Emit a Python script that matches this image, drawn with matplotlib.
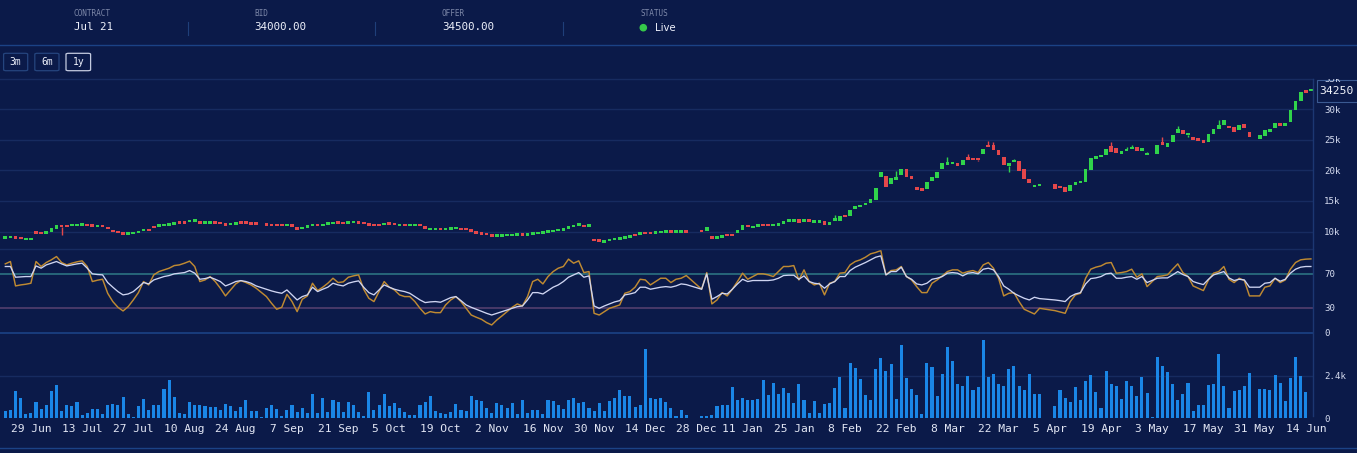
import numpy as np
import matplotlib
matplotlib.use("Agg")
import matplotlib.pyplot as plt
from matplotlib.patches import Rectangle, FancyBboxPatch, Ellipse
from matplotlib.lines import Line2D
from matplotlib.transforms import Bbox

# ---------------- data ----------------
x_labels = ["29 Jun", "13 Jul", "27 Jul", "10 Aug", "24 Aug", "7 Sep", "21 Sep", "5 Oct",
            "19 Oct", "2 Nov", "16 Nov", "30 Nov", "14 Dec", "28 Dec", "11 Jan", "25 Jan",
            "8 Feb", "22 Feb", "8 Mar", "22 Mar", "5 Apr", "19 Apr", "3 May", "17 May",
            "31 May", "14 Jun"]
x_label_slots = [5, 15, 25, 35, 45, 55, 65, 75, 85, 95, 105, 115, 125, 135, 144, 154,
                 164, 174, 184, 194, 204, 214, 224, 234, 244, 254]

N = None
opens = [
    9000, 9080, 9050, 8950, 8780, 8790, 9860, 9800, 9800, 9970,
    10350, 10960, 10950, 11000, 11050, 11120, 11100, 11000, 10880, 10930,
    10700, 10250, 9970, 9850, 9650, 9750, 9850, 10100, 10280, 10820,
    10930, 11030, 11100, 11230, 11470, 11470, 11700, 11750, 11600, 11420,
    11420, 11470, 11450, 11230, 11200, 11310, 11470, 11470, 11360, 11360,
    N, 11200, 11110, 11040, 11040, 11000, 11000, 10570, 10520, 10680,
    11080, 11230, 11080, 11290, 11400, 11480, 11370, 11420, 11530, 11470,
    11370, 11230, 11100, 11100, 11030, 11360, 11250, 11040, 11090, 11040,
    11040, 11090, 10900, 10390, 10390, 10440, 10390, 10440, 10500, 10440,
    10440, 10350, 9890, 9720, 9610, 9590, 9350, 9350, 9400, 9450,
    9510, 9560, 9510, 9670, 9730, 9840, 9950, 10060, 10220, 10330,
    10350, 10880, 11090, 11090, 10930, 8720, 8600, 8330, 8600, 8720,
    8830, 9000, 9100, 9480, 9450, 9860, 9810, 9830, 9900, 9950,
    10000, 9950, 10000, 10050, N, N, 10300, 10140, 9040, 8990,
    9100, 9420, 9420, 9700, 10250, 11010, 10760, 10930, 11090, 11090,
    10990, 11150, 11230, 11750, 11800, 11995, 11560, 11990, 11590, 11590,
    11780, 11060, 11900, 11780, 12590, 12540, 13900, 14100, 14450, 14620,
    15170, 18990, 19160, 17740, 18450, 19320, 20200, 19100, 17050, 17080,
    16910, 18340, 18720, 20200, 20900, 21180, 21290, 20900, 22050, 22000,
    21880, 22710, 24190, 24190, 23370, 22160, 20740, 21510, 21510, 20190,
    18550, 17440, 17460, N, N, 17790, 17350, 17240, 16700, 17570,
    18010, 18170, 20080, 21940, 22160, 22550, 24020, 23640, 22880, 23200,
    23480, 23910, 23200, 22660, N, 22650, 24460, 23910, 24570, 26100,
    26540, 25930, 25390, 25060, 24900, 24680, 26000, 26810, 27360, 27300,
    27080, 26540, 27630, 26370, N, 25120, 25660, 26480, 26920, 27680,
    27190, 27900, 29820, 31290, 33040, 33100,
]
closes = [
    9050, 9150, 8980, 8880, 8830, 8850, 9750, 9700, 9870, 10520,
    11050, 10900, 10900, 11050, 11120, 11180, 11000, 10900, 10930, 10850,
    10400, 9970, 9900, 9550, 9700, 9810, 9920, 10300, 10200, 10750,
    10980, 11080, 11150, 11450, 11420, 11420, 11750, 11800, 11350, 11470,
    11470, 11420, 11400, 11070, 11250, 11360, 11420, 11420, 11310, 11310,
    N, 11150, 11060, 10990, 10990, 11050, 10930, 10350, 10580, 11000,
    11130, 10900, 11130, 11340, 11460, 11430, 11320, 11470, 11580, 11420,
    11320, 11010, 11050, 11050, 11450, 11310, 11200, 11090, 11040, 11090,
    11090, 11040, 10360, 10440, 10440, 10390, 10440, 10490, 10550, 10390,
    10390, 9970, 9840, 9670, 9560, 9150, 9400, 9400, 9450, 9500,
    9560, 9510, 9560, 9720, 9780, 9890, 10000, 10110, 10270, 10380,
    10960, 10930, 11140, 10790, 10980, 8550, 8400, 8450, 8660, 8770,
    8880, 9050, 9260, 9400, 9860, 9700, 9760, 9880, 9950, 10000,
    9950, 10000, 10050, 9980, N, N, 9950, 10680, 8990, 9040,
    9200, 9370, 9370, 10250, 11010, 10790, 10810, 10980, 11040, 11040,
    11040, 11200, 11780, 11800, 11850, 11450, 12000, 11670, 11640, 11640,
    11060, 11610, 12000, 12600, 12540, 13520, 14000, 14200, 14550, 15280,
    17190, 19700, 17240, 18720, 18990, 20250, 18990, 18610, 17000, 16700,
    18170, 18880, 19700, 21180, 21340, 21340, 20740, 21730, 21830, 21730,
    21780, 23580, 23800, 23370, 22550, 20850, 21290, 21620, 19980, 18550,
    17900, 17500, 17790, N, N, 17020, 17130, 16530, 17570, 18120,
    18280, 20190, 22000, 22270, 22600, 23580, 23090, 22930, 22960, 23480,
    23910, 23200, 23750, 22740, N, 24190, 24400, 24460, 25830, 26760,
    25990, 25990, 25120, 25000, 24510, 25940, 26760, 27360, 28290, 26920,
    26370, 27410, 26920, 25440, N, 25770, 26540, 26650, 27740, 27300,
    27740, 29820, 31290, 32820, 32770, 33250,
]
wick_high = {11: 11000, 162: 12650, 174: 19920, 184: 22160, 188: 22710, 190: 22000,
             192: 24790, 193: 24730, 197: 21840, 216: 24570, 219: 23800, 220: 24190,
             223: 23090, 226: 25550, 229: 27190, 237: 28180}
wick_low = {11: 9430, 190: 21460, 196: 19810, 223: 22490, 226: 24190, 231: 25550}

volume_k = [
    0.40, 0.44, 1.53, 1.13, 0.25, 0.29, 0.93, 0.53, 0.76, 1.53,
    1.85, 0.40, 0.71, 0.67, 0.89, 0.16, 0.31, 0.53, 0.53, 0.20,
    0.76, 0.80, 0.73, 1.16, 0.25, 0.07, 0.65, 1.07, 0.47, 0.71,
    0.73, 1.62, 2.16, 1.20, 0.31, 0.20, 0.89, 0.71, 0.71, 0.65,
    0.62, 0.62, 0.47, 0.80, 0.67, 0.40, 0.62, 1.04, 0.40, 0.40,
    0.07, 0.55, 0.73, 0.53, 0.11, 0.44, 0.76, 0.36, 0.58, 0.29,
    1.35, 0.31, 1.15, 0.36, 1.04, 0.89, 0.35, 0.89, 0.76, 0.35,
    0.11, 1.49, 0.47, 0.76, 1.38, 0.65, 0.84, 0.58, 0.33, 0.15,
    0.15, 0.71, 0.93, 1.25, 0.38, 0.31, 0.25, 0.33, 0.80, 0.44,
    0.40, 1.25, 1.00, 0.96, 0.58, 0.29, 0.85, 0.75, 0.55, 0.85,
    0.24, 1.00, 0.31, 0.45, 0.47, 0.25, 1.00, 0.98, 0.71, 0.53,
    1.02, 1.15, 0.82, 0.93, 0.55, 0.40, 0.87, 0.40, 0.96, 1.15,
    1.58, 1.25, 1.24, 0.62, 0.73, 3.89, 1.15, 1.05, 1.13, 0.93,
    0.54, 0.13, 0.45, 0.17, N, N, 0.11, 0.11, 0.17, 0.67,
    0.74, 0.74, 1.75, 1.00, 1.12, 1.00, 1.04, 1.08, 2.16, 1.28,
    1.99, 1.38, 1.71, 1.40, 0.87, 1.90, 1.04, 0.26, 0.95, 0.28,
    0.78, 0.82, 1.67, 2.29, 0.58, 3.09, 2.83, 2.18, 1.32, 1.02,
    2.79, 3.40, 2.64, 3.07, 1.08, 4.13, 2.25, 1.62, 1.28, 0.22,
    3.09, 2.90, 1.23, 2.49, 4.00, 3.22, 1.90, 1.79, 2.38, 1.56,
    1.75, 4.41, 2.29, 2.46, 1.90, 1.81, 2.79, 2.92, 1.81, 1.60,
    2.48, 1.36, 1.36, N, N, 0.68, 1.56, 1.15, 0.90, 1.75,
    1.02, 2.11, 2.45, 1.45, 0.56, 2.65, 1.92, 1.83, 1.05, 2.07,
    1.83, 1.24, 2.33, 1.43, 0.08, 3.46, 2.94, 2.60, 1.92, 1.02,
    1.36, 2.00, 0.41, 0.72, 0.75, 1.88, 1.92, 3.61, 1.81, 0.55,
    1.52, 1.56, 1.83, 2.54, N, 1.64, 1.64, 1.60, 2.45, 1.98,
    0.96, 2.28, 3.44, 2.39, 1.47, N,
]

osc_fast = [
    81.8, 84.6, 55.7, 56.9, 57.7, 58.9, 84.6, 78.7, 83.4, 86.6,
    90.5, 83.4, 80.6, 82.6, 84.2, 85.4, 78.7, 60.9, 62.5, 63.6,
    47.0, 37.2, 30.4, 26.1, 31.2, 39.1, 47.8, 60.9, 56.9, 68.8,
    72.7, 74.7, 76.7, 79.8, 80.6, 82.6, 85.0, 78.7, 60.9, 62.8,
    66.8, 60.9, 53.0, 43.9, 51.0, 58.1, 62.0, 59.7, 56.9, 53.0,
    N, 43.1, 35.2, 28.1, 30.4, 45.8, 37.2, 25.3, 39.9, 43.9,
    58.9, 50.2, 54.2, 58.9, 64.8, 59.7, 60.5, 66.0, 67.6, 68.8,
    51.8, 41.1, 37.2, 49.0, 60.9, 54.2, 51.0, 45.1, 43.1, 43.1,
    37.2, 29.2, 22.5, 25.3, 24.1, 24.1, 33.2, 39.1, 43.1, 37.2,
    29.2, 21.3, 18.6, 16.2, 12.3, 9.5, 15.4, 20.2, 25.3, 30.4,
    34.4, 32.0, 43.1, 60.9, 63.6, 58.1, 66.8, 72.7, 76.7, 78.7,
    87.4, 82.6, 85.4, 71.5, 72.7, 23.3, 21.3, 25.3, 29.2, 31.2,
    33.2, 47.0, 49.0, 54.2, 63.6, 62.8, 56.9, 60.9, 64.8, 64.8,
    59.7, 63.6, 64.8, 68.0, N, N, 51.8, 71.5, 34.4, 39.1,
    47.8, 43.9, 51.8, 60.9, 70.8, 63.6, 66.8, 70.0, 70.0, 68.8,
    66.8, 72.7, 78.7, 78.7, 79.8, 62.8, 74.7, 60.9, 56.9, 58.9,
    45.1, 58.9, 60.9, 70.8, 71.5, 80.6, 84.6, 86.6, 89.7, 93.7,
    95.3, 97.6, 68.8, 73.9, 74.7, 78.7, 66.8, 62.8, 54.9, 47.8,
    47.8, 58.9, 62.8, 67.6, 72.7, 74.7, 74.7, 70.8, 72.7, 73.9,
    71.5, 80.6, 83.4, 76.7, 64.8, 43.9, 47.0, 47.8, 37.2, 28.1,
    25.3, 22.5, 29.2, N, N, 26.5, 24.9, 23.3, 37.2, 45.1,
    47.0, 64.8, 75.5, 77.9, 79.4, 82.6, 83.4, 70.8, 71.5, 72.7,
    75.5, 66.0, 70.0, 54.9, N, 66.8, 67.6, 68.8, 75.5, 81.8,
    71.5, 66.8, 55.7, 53.0, 50.2, 62.8, 70.8, 72.7, 78.7, 63.6,
    59.7, 64.8, 62.1, 43.9, N, 43.9, 54.2, 55.7, 64.8, 59.7,
    62.8, 75.5, 83.4, 86.6, 87.4, 87.7,
]
osc_slow = [
    78.7, 78.7, 66.0, 66.4, 66.8, 66.8, 79.4, 76.7, 80.6, 82.6,
    84.6, 81.8, 79.4, 80.6, 81.8, 82.6, 76.7, 70.0, 69.2, 68.8,
    59.7, 54.2, 49.0, 45.1, 46.2, 49.0, 54.2, 59.7, 58.1, 62.8,
    64.8, 66.8, 68.0, 70.0, 70.8, 71.5, 73.9, 70.8, 63.6, 64.4,
    66.0, 63.6, 60.9, 55.7, 58.1, 60.9, 62.0, 60.9, 58.9, 55.7,
    N, 51.8, 49.8, 48.2, 47.0, 51.0, 45.1, 39.1, 43.1, 45.1,
    54.2, 49.0, 51.8, 54.2, 58.9, 56.9, 55.7, 58.9, 60.5, 61.7,
    54.2, 47.8, 45.1, 51.0, 56.9, 54.2, 51.8, 50.2, 49.0, 47.0,
    43.1, 39.1, 36.0, 36.8, 37.2, 36.4, 39.1, 41.9, 43.1, 38.3,
    33.2, 30.4, 28.1, 25.7, 23.3, 21.3, 23.3, 25.3, 27.3, 29.2,
    31.2, 32.0, 39.1, 47.8, 47.8, 46.2, 50.2, 54.2, 56.9, 60.9,
    66.0, 68.8, 71.5, 66.0, 67.6, 32.0, 29.2, 32.0, 34.4, 36.8,
    38.3, 45.1, 46.2, 47.8, 54.2, 54.2, 51.8, 53.0, 54.2, 54.9,
    54.2, 55.7, 58.1, 57.3, N, N, 51.8, 70.0, 39.9, 43.1,
    47.0, 46.2, 51.8, 58.1, 63.6, 60.9, 62.1, 62.1, 62.1, 62.1,
    62.8, 64.8, 68.0, 68.4, 68.4, 63.6, 67.6, 60.9, 58.9, 58.1,
    53.0, 58.1, 60.9, 66.8, 66.8, 73.9, 77.9, 80.6, 83.4, 86.6,
    89.7, 91.3, 68.8, 72.7, 72.7, 77.9, 66.8, 63.6, 58.1, 56.9,
    58.9, 63.6, 64.8, 66.8, 70.8, 71.5, 70.8, 67.6, 70.8, 71.5,
    70.0, 75.5, 76.7, 74.7, 66.8, 55.7, 51.8, 47.0, 43.9, 41.1,
    39.1, 42.3, 40.7, N, N, 39.1, 38.3, 37.2, 43.1, 46.2,
    47.8, 58.1, 64.4, 65.2, 66.8, 70.0, 70.8, 64.8, 64.8, 66.0,
    66.8, 63.6, 66.8, 59.7, N, 64.8, 65.2, 65.2, 68.8, 72.7,
    69.2, 66.8, 60.9, 58.9, 57.3, 63.6, 68.8, 70.8, 72.7, 65.2,
    62.1, 63.6, 62.8, 54.2, N, 54.2, 58.9, 59.7, 64.8, 61.3,
    63.6, 70.8, 75.5, 77.9, 78.7, 78.7,
]

price_ticks = [10000, 15000, 20000, 25000, 30000]
price_tick_labels = ["10k", "15k", "20k", "25k", "30k"]
osc_ticks = [0, 30, 70]
vol_ticks = [0, 2.4]
vol_tick_labels = ["0", "2.4k"]
last_label = "34250"
header_fields = [("CONTRACT", "Jul 21"), ("BID", "34000.00"), ("OFFER", "34500.00")]
range_buttons = ["3m", "6m", "1y"]

# ---------------- style ----------------
W, H = 1357, 453
BG = "#0b1a49"
GRID = "#172b60"
SEP = "#1b4286"
GREEN = "#30d34b"
RED = "#e4474b"
VOLC = "#1a86e6"
ORANGE = "#bf8a32"
WHITE_L = "#cfd5f2"
LINE70 = "#2a6b7e"
LINE30 = "#4d3c6b"
TICK_C = "#d6dcf0"
LABEL_C = "#7c87a8"
MONO = "DejaVu Sans Mono"
plt.rcParams["font.family"] = [MONO, "DejaVu Sans"]

AX_R = 1313.0
X0_PX, DX_PX = 5.3, 5.12
XMIN = (0 - X0_PX) / DX_PX
XMAX = (AX_R - X0_PX) / DX_PX

def fx(px):
    return px / W

def fy(py):
    return 1 - py / H

fig = plt.figure(figsize=(W / 100, H / 100), dpi=100, facecolor=BG)

def add_panel(top, bottom):
    ax = fig.add_axes([0, fy(bottom), AX_R / W, (bottom - top) / H])
    ax.set_facecolor("none")
    for s in ax.spines.values():
        s.set_visible(False)
    ax.set_xlim(XMIN, XMAX)
    ax.tick_params(axis="x", bottom=False, labelbottom=False)
    ax.yaxis.tick_right()
    ax.tick_params(axis="y", length=0, pad=7.9, labelsize=6.6, labelcolor=TICK_C)
    return ax

P_TOP, P_BOT = 79.0, 248.5
O_TOP, O_BOT = 248.5, 333.0
V_TOP, V_BOT = 333.0, 418.0
PPX = 163.7  # price per pixel

ax_p = add_panel(P_TOP, P_BOT)
ax_o = add_panel(O_TOP, O_BOT)
ax_v = add_panel(V_TOP, V_BOT)

# ---- price panel ----
ax_p.set_ylim(10000 - (P_BOT - 231.5) * PPX, 10000 + (231.5 - P_TOP) * PPX)
for t in price_ticks:
    ax_p.axhline(t, color=GRID, lw=1, zorder=0)
ax_p.set_yticks(price_ticks)
ax_p.set_yticklabels(price_tick_labels)

o = np.array([np.nan if v is None else v for v in opens], float)
c = np.array([np.nan if v is None else v for v in closes], float)
xs = np.arange(len(c))
valid = ~np.isnan(c)
up = c >= o
cols = np.where(up, GREEN, RED)
lo = np.minimum(o, c)
hgt = np.abs(c - o)
min_h = 2.4 * PPX
mid = (o + c) / 2
small = hgt < min_h
lo = np.where(small, mid - min_h / 2, lo)
hgt = np.where(small, min_h, hgt)
ax_p.bar(xs[valid], hgt[valid], bottom=lo[valid], width=0.72, color=cols[valid],
         linewidth=0, zorder=3)
for i, hv in wick_high.items():
    ax_p.vlines(i, lo[i] + hgt[i], hv, color=cols[i], lw=1, zorder=2)
for i, lv in wick_low.items():
    ax_p.vlines(i, lv, lo[i], color=cols[i], lw=1, zorder=2)

# ---- oscillator panel ----
ax_o.set_ylim(0, 100)
ax_o.set_yticks(osc_ticks)
ax_o.set_yticklabels([str(t) for t in osc_ticks])
ax_o.axhline(70, color=LINE70, lw=1.3, zorder=1)
ax_o.axhline(30, color=LINE30, lw=1.3, zorder=1)
fast = np.array([np.nan if v is None else v for v in osc_fast], float)
slow = np.array([np.nan if v is None else v for v in osc_slow], float)
m = ~np.isnan(fast)
ax_o.plot(xs[m], fast[m], color=ORANGE, lw=1.05, zorder=3)
m2 = ~np.isnan(slow)
ax_o.plot(xs[m2], slow[m2], color=WHITE_L, lw=0.95, zorder=4)

# ---- volume panel ----
vol_max = (V_BOT - V_TOP) / 17.7
ax_v.set_ylim(0, vol_max)
ax_v.set_yticks(vol_ticks)
ax_v.set_yticklabels(vol_tick_labels)
ax_v.axhline(2.4, color=GRID, lw=1, zorder=0)
vv = np.array([np.nan if v is None else v for v in volume_k], float)
mv = ~np.isnan(vv)
ax_v.bar(xs[mv], vv[mv], width=0.6, color=VOLC, linewidth=0, zorder=3)
ax_v.set_xticks(x_label_slots)
ax_v.set_xticklabels(x_labels)
ax_v.tick_params(axis="x", bottom=False, labelbottom=True, length=0, pad=4,
                 labelsize=8.1, labelcolor="#e2e6f4")

# ---- figure-level lines ----
def hline(py, color, lw=1.0, x0=0, x1=AX_R):
    fig.add_artist(Line2D([fx(x0), fx(x1)], [fy(py), fy(py)], color=color, lw=lw,
                          transform=fig.transFigure))

hline(45, SEP, 1.0, 0, W)
hline(P_TOP, GRID, 1.0)
hline(P_BOT, GRID, 1.0)
hline(O_BOT, SEP, 1.2)
hline(448.3, SEP, 1.0, 0, W)
fig.add_artist(Line2D([fx(AX_R), fx(AX_R)], [fy(P_TOP), fy(416)], color="#1c3772", lw=1.0,
                      transform=fig.transFigure))

# clipped top price label (35k)
t35 = fig.text(fx(1324), fy(P_TOP), "35k", fontsize=6.6, color=TICK_C, va="center", ha="left")
t35.set_clip_box(Bbox.from_extents(AX_R, 0, W, H - P_TOP - 0.3))
t35.set_clip_on(True)

# last price label box
fig.add_artist(Rectangle((fx(1316.7), fy(102.3)), (W - 1316.7 + 2) / W, 22.3 / H,
                         transform=fig.transFigure, fill=False, ec="#3b5a92", lw=0.8))
fig.text(fx(1319.5), fy(91), last_label, fontsize=8.2, color="#f2f4fb", va="center", ha="left")

# ---- header ----
hx = [73.7, 254.5, 442.0]
for (lab, val), x in zip(header_fields, hx):
    fig.text(fx(x), fy(14), lab, fontsize=5.6, color=LABEL_C, va="center", ha="left")
    fig.text(fx(x), fy(27.5), val, fontsize=7.8, color="#eef1fb", va="center", ha="left")
for sx in [188.4, 375.0, 563.4]:
    fig.add_artist(Line2D([fx(sx), fx(sx)], [fy(21.5), fy(35)], color="#1f3f7a", lw=0.8,
                          transform=fig.transFigure))
fig.text(fx(640.6), fy(13.3), "STATUS", fontsize=5.6, color=LABEL_C, va="center", ha="left")
fig.add_artist(Ellipse((fx(643.3), fy(27.7)), 6.2 / W, 6.2 / H, transform=fig.transFigure,
                       color="#36c94a"))
fig.text(fx(655), fy(27.7), "Live", fontsize=7.3, color="#eef1fb", va="center", ha="left",
         family="DejaVu Sans")

# range buttons
btns = [(3.6, 27.7), (34.8, 59.0), (66.0, 90.6)]
for (b0, b1), lab in zip(btns, range_buttons):
    active = lab == "1y"
    fig.add_artist(FancyBboxPatch((fx(b0), fy(70.7)), (b1 - b0) / W, 17.4 / H,
                                  boxstyle="round,pad=0,rounding_size=0.002",
                                  transform=fig.transFigure, fill=False,
                                  ec="#c4cbe0" if active else "#25457e", lw=0.9))
    fig.text(fx((b0 + b1) / 2), fy(62), lab, fontsize=7, color="#eef1fb",
             va="center", ha="center")

fig.savefig("out.png", dpi=100, facecolor=BG)
